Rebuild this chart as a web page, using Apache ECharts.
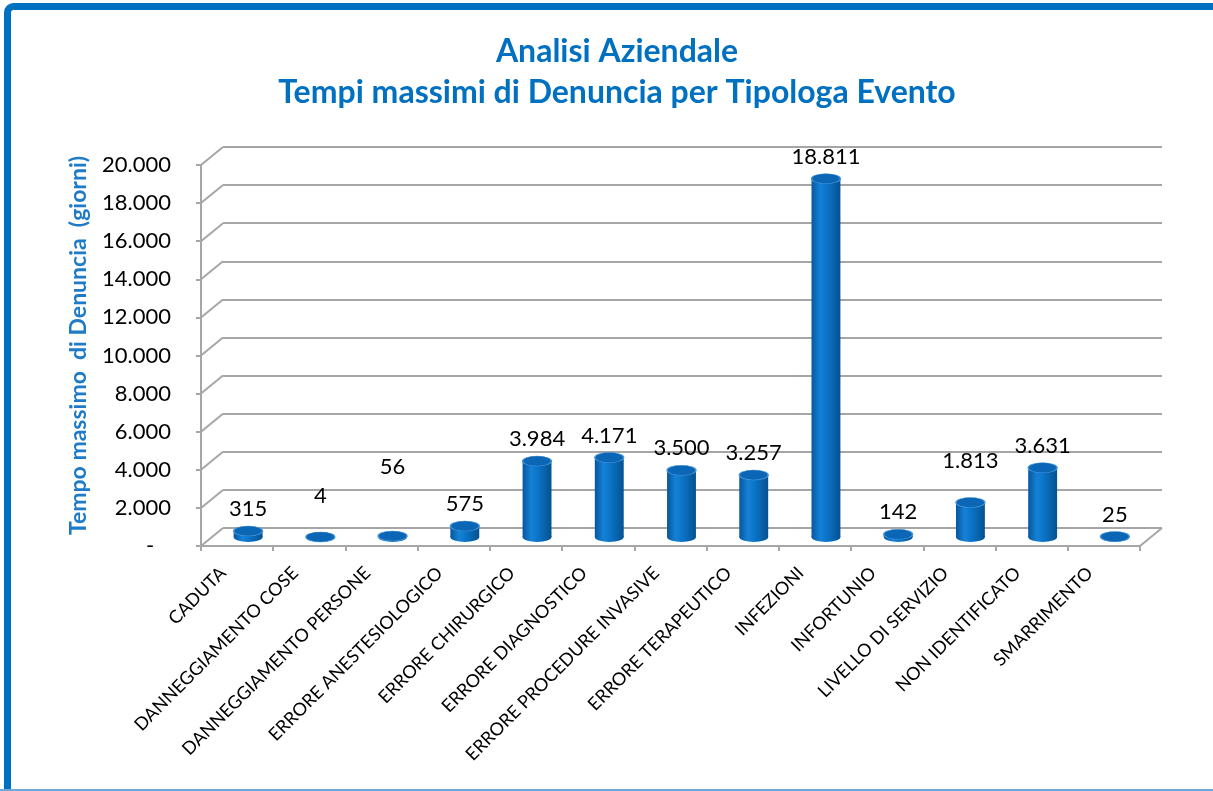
<!DOCTYPE html>
<html>
<head>
<meta charset="utf-8">
<script src="https://cdn.jsdelivr.net/npm/echarts@6/dist/echarts.min.js"></script>
<style>
html,body{margin:0;padding:0;background:#fff;}
#chart{width:1213px;height:791px;}
</style>
</head>
<body>
<div id="chart"></div>
<script>
// ---- data ----
const categories = [
  'CADUTA','DANNEGGIAMENTO COSE','DANNEGGIAMENTO PERSONE','ERRORE ANESTESIOLOGICO',
  'ERRORE CHIRURGICO','ERRORE DIAGNOSTICO','ERRORE PROCEDURE INVASIVE','ERRORE TERAPEUTICO',
  'INFEZIONI','INFORTUNIO','LIVELLO DI SERVIZIO','NON IDENTIFICATO','SMARRIMENTO'
];
const values = [315, 4, 56, 575, 3984, 4171, 3500, 3257, 18811, 142, 1813, 3631, 25];
const yTicks = [0, 2000, 4000, 6000, 8000, 10000, 12000, 14000, 16000, 18000, 20000];
const titleText = 'Analisi Aziendale\nTempi massimi di Denuncia per Tipologa Evento';
const yAxisTitle = 'Tempo massimo  di Denuncia  (giorni)';

// ---- style ----
const DEPTH_X = 22, DEPTH_Y = -18;      // 3D depth offset of back wall
const labelLift = [0, 19, 47, 0, 0, 0, 0, 0, 0, 0, 20, 0, 0]; // extra label lift (px), style only
const GRID = '#a6a6a6';
const FONT = 'Lato, "Open Sans", sans-serif';

function fmt(v) {
  return String(v).replace(/\B(?=(\d{3})+(?!\d))/g, '.');
}

const chart = echarts.init(document.getElementById('chart'), null, {renderer: 'canvas'});

const option = {
  backgroundColor: '#ffffff',
  animation: false,
  title: {
    text: titleText,
    left: 612,
    textAlign: 'center',
    top: 26,
    textStyle: {
      fontFamily: FONT, fontWeight: 'bold', fontSize: 32, color: '#0070C0', lineHeight: 41
    }
  },
  graphic: [
    {type: 'rect', shape: {x: 7.5, y: 6.5, width: 1400, height: 1000, r: 6},
     style: {fill: 'none', stroke: '#0070C0', lineWidth: 7}, z: 100, silent: true},
    {type: 'line', shape: {x1: 0, y1: 790, x2: 1213, y2: 790},
     style: {stroke: '#6fa8dc', lineWidth: 2}, z: 100, silent: true}
  ],
  grid: [
    {left: 201, right: 73, top: 165, bottom: 245},   // front plane
    {left: 223, right: 51, top: 147, bottom: 263}    // back wall
  ],
  xAxis: [
    {
      type: 'category', gridIndex: 0, data: categories,
      axisLine: {show: true, lineStyle: {color: GRID, width: 2}},
      axisTick: {show: true, length: 5, alignWithLabel: false, lineStyle: {color: GRID, width: 2}},
      axisLabel: {
        interval: 0, rotate: 45, margin: 10, color: '#000',
        fontFamily: FONT, fontSize: 18, padding: [0, 20, 0, 0]
      },
      splitLine: {show: false}
    },
    {
      type: 'category', gridIndex: 1, data: categories, show: false
    }
  ],
  yAxis: [
    {
      type: 'value', gridIndex: 0, min: 0, max: 20000, interval: 2000,
      name: yAxisTitle, nameLocation: 'middle', nameGap: 111,
      nameTextStyle: {fontFamily: FONT, fontWeight: 'bold', fontSize: 23, color: '#1f7bc6', padding: [0, 0, 0, 20]},
      axisLine: {show: true, lineStyle: {color: GRID, width: 2}},
      axisTick: {show: true, length: 5, lineStyle: {color: GRID, width: 2}},
      axisLabel: {
        margin: 30, color: '#000', fontFamily: FONT, fontSize: 22,
        formatter: v => v === 0 ? '-   ' : fmt(v)
      },
      splitLine: {show: false}
    },
    {
      type: 'value', gridIndex: 1, min: 0, max: 20000, interval: 2000,
      axisLine: {show: false}, axisTick: {show: false}, axisLabel: {show: false},
      splitLine: {show: true, lineStyle: {color: GRID, width: 2}}
    }
  ],
  series: [
    {
      // diagonal connectors of the side wall at every tick
      type: 'custom', xAxisIndex: 0, yAxisIndex: 0, z: 1, silent: true,
      data: yTicks.map(v => [0, v]),
      renderItem: (params, api) => {
        const p = api.coord([0, api.value(1)]);
        const band = api.size([1, 0])[0];
        const x = p[0] - band / 2;
        return {type: 'line', shape: {x1: x, y1: p[1], x2: x + DEPTH_X, y2: p[1] + DEPTH_Y},
                style: {stroke: GRID, lineWidth: 2}};
      }
    },
    {
      // right floor edge
      type: 'custom', xAxisIndex: 0, yAxisIndex: 0, z: 1, silent: true,
      data: [[categories.length - 1, 0]],
      renderItem: (params, api) => {
        const p = api.coord([api.value(0), api.value(1)]);
        const band = api.size([1, 0])[0];
        const x = p[0] + band / 2;
        return {type: 'line', shape: {x1: x, y1: p[1], x2: x + DEPTH_X, y2: p[1] + DEPTH_Y},
                style: {stroke: GRID, lineWidth: 2}};
      }
    },
    {
      // cylinders
      type: 'custom', xAxisIndex: 0, yAxisIndex: 0, z: 5,
      data: values.map((v, i) => [i, v]),
      renderItem: (params, api) => {
        const i = api.value(0), v = api.value(1);
        const base = api.coord([i, 0]);
        const top = api.coord([i, v]);
        const band = api.size([1, 0])[0];
        const cx = base[0] + DEPTH_X / 2;
        const yb = base[1] + DEPTH_Y / 2;
        const yt = top[1] + DEPTH_Y / 2;
        const w = band * 0.4;
        const rx = w / 2, ry = 5;
        const bodyFill = new echarts.graphic.LinearGradient(0, 0, 1, 0, [
          {offset: 0, color: '#0656a0'},
          {offset: 0.3, color: '#1581d6'},
          {offset: 0.55, color: '#0a73c6'},
          {offset: 1, color: '#05518f'}
        ]);
        const children = [
          {type: 'circle', shape: {cx: 0, cy: 0, r: rx}, x: cx, y: yb, scaleY: ry / rx,
           style: {fill: bodyFill}},
          {type: 'rect', shape: {x: cx - rx, y: yt, width: w, height: Math.max(0, yb - yt)},
           style: {fill: bodyFill}},
          {type: 'circle', shape: {cx: 0, cy: 0, r: rx}, x: cx, y: yt, scaleY: ry / rx,
           style: {fill: '#0b67b6', stroke: '#4a97da', lineWidth: 1.5}},
          {type: 'text', x: cx, y: yt - 22 - labelLift[i],
           style: {text: fmt(v), fill: '#000', font: '22px ' + FONT,
                   align: 'center', verticalAlign: 'middle'}}
        ];
        return {type: 'group', children};
      }
    }
  ]
};
chart.setOption(option);
</script>
</body>
</html>
